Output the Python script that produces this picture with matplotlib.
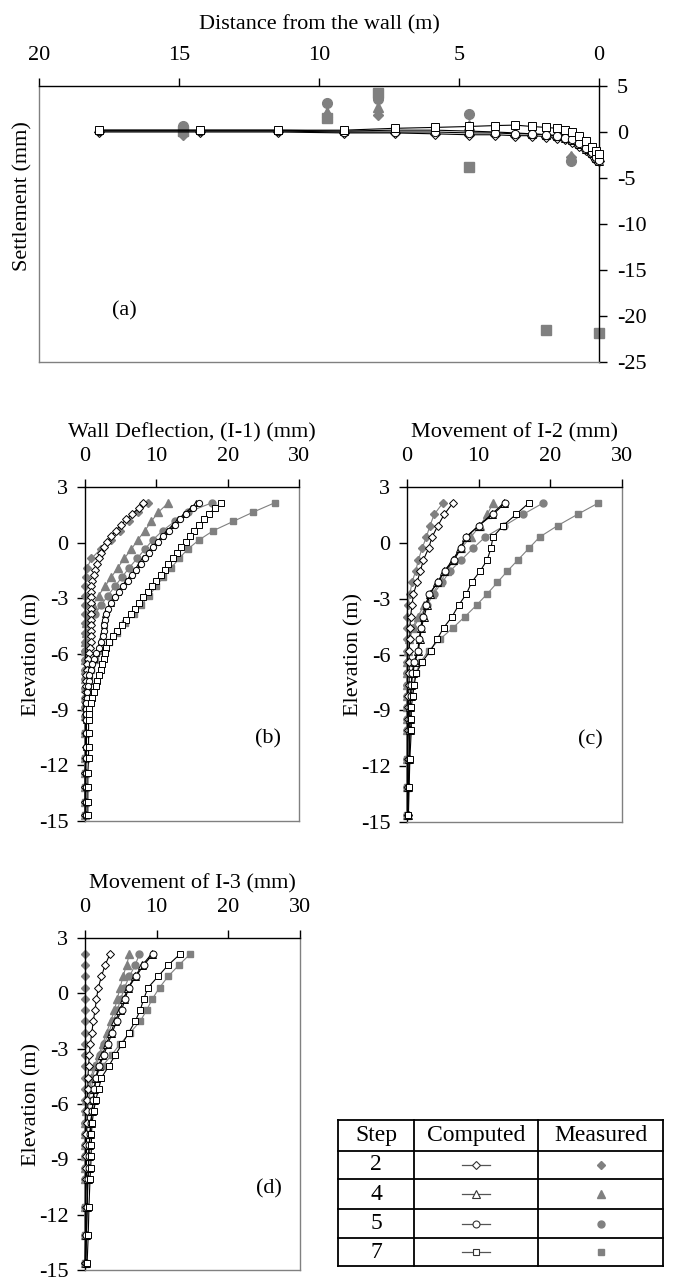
import matplotlib
matplotlib.use("Agg")
import matplotlib.pyplot as plt

plt.rcParams["font.family"] = ["Liberation Serif", "DejaVu Serif"]
plt.rcParams["font.size"] = 16
plt.rcParams["axes.unicode_minus"] = False

GRAY = "#808080"
STEPS = ["2", "4", "5", "7"]
MARKERS = {"2": "D", "4": "^", "5": "o", "7": "s"}
MSCALE = {"2": 0.8, "4": 1.05, "5": 1.0, "7": 1.0}

# (a) surface settlement
A_DIST_CALC = [17.85, 14.25, 11.45, 9.1, 7.3, 5.85, 4.65, 3.7, 3.0, 2.4, 1.9, 1.5, 1.2, 0.95, 0.7, 0.45, 0.25, 0.1, 0.0]
A_CALC = {
    "2": [0.0, 0.0, 0.0, -0.1, -0.1, -0.2, -0.3, -0.3, -0.4, -0.4, -0.5, -0.6, -0.8, -1.1, -1.5, -2.0, -2.5, -3.0, -3.2],
    "4": [0.2, 0.2, 0.2, 0.1, 0.2, 0.2, 0.1, 0.0, -0.1, -0.2, -0.3, -0.4, -0.6, -0.9, -1.3, -1.8, -2.3, -2.8, -3.1],
    "5": [0.1, 0.1, 0.1, 0.0, 0.0, 0.0, -0.1, -0.1, -0.2, -0.2, -0.3, -0.4, -0.6, -0.8, -1.2, -1.7, -2.2, -2.7, -3.0],
    "7": [0.2, 0.2, 0.2, 0.2, 0.4, 0.5, 0.6, 0.7, 0.75, 0.6, 0.5, 0.4, 0.25, 0.0, -0.45, -1.0, -1.6, -2.1, -2.4],
}
A_DIST_MEAS = {
    "2": [14.85, 9.7, 7.9, 4.65, 1.0],
    "4": [14.85, 9.7, 7.9, 4.65, 1.0],
    "5": [14.85, 9.7, 7.9, 4.65, 1.0],
    "7": [14.85, 9.7, 7.9, 4.65, 1.9, 0.0],
}
A_MEAS = {
    "2": [-0.3, 1.9, 1.8, 0.2, -2.7],
    "4": [0.2, 2.2, 2.7, 0.8, -2.6],
    "5": [0.6, 3.2, 3.6, 2.0, -3.2],
    "7": [0.1, 1.5, 4.2, -3.8, -21.5, -21.8],
}

# (b) wall deflection I-1
B_ELEV_MEAS = [2.15, 1.65, 1.15, 0.65, 0.15, -0.35, -0.85, -1.35, -1.85, -2.35, -2.85, -3.35, -3.85, -4.35, -4.85,
               -5.35, -5.85, -6.35, -6.85, -7.35, -7.85, -8.35, -8.85, -9.35, -10.24, -11.62, -12.4, -13.15, -13.96, -14.68]
B_MEAS = {
    "2": [8.9, 7.4, 6.1, 4.9, 3.6, 2.2, 0.9, 0.3, 0.1, 0.0, 0.0, 0.0, 0.0, 0.0, 0.0,
          0.0, 0.0, 0.0, 0.0, 0.0, 0.0, 0.0, 0.0, 0.0, 0.0, 0.0, 0.0, 0.0, 0.0, 0.0],
    "4": [11.7, 10.3, 9.3, 8.4, 7.4, 6.5, 5.5, 4.6, 3.7, 2.8, 1.9, 1.1, 0.5, 0.2, 0.1,
          0.0, 0.0, 0.0, 0.0, 0.0, 0.0, 0.0, 0.0, 0.0, 0.0, 0.0, 0.0, 0.0, 0.0, 0.0],
    "5": [17.8, 14.5, 12.6, 10.9, 9.5, 8.4, 7.3, 6.2, 5.2, 4.2, 3.2, 2.3, 1.4, 0.7, 0.3,
          0.1, 0.0, 0.0, 0.0, 0.0, 0.0, 0.0, 0.0, 0.0, 0.0, 0.0, 0.0, 0.0, 0.0, 0.0],
    "7": [26.6, 23.6, 20.8, 18.0, 16.0, 14.4, 13.2, 12.1, 11.0, 10.0, 9.0, 7.9, 6.8, 5.6, 4.5,
          3.4, 2.3, 1.4, 0.8, 0.5, 0.3, 0.2, 0.1, 0.1, 0.0, 0.0, 0.0, 0.0, 0.0, 0.0],
}
B_ELEV_CALC = [2.15, 1.85, 1.55, 1.25, 0.95, 0.65, 0.35, 0.05, -0.25, -0.55,
               -0.85, -1.15, -1.45, -1.75, -2.05, -2.35, -2.65, -2.95, -3.25, -3.55,
               -3.85, -4.15, -4.45, -4.75, -5.05, -5.35, -5.65, -5.95, -6.25, -6.55,
               -6.85, -7.15, -7.45, -7.75, -8.05, -8.35, -8.65, -8.95, -9.25, -9.55,
               -10.24, -11.0, -11.62, -12.4, -13.15, -13.96, -14.68]
B_CALC = {
    "2": [8.2, 7.5, 6.6, 5.8, 5.0, 4.3, 3.7, 3.1, 2.6, 2.3,
          2.0, 1.7, 1.4, 1.2, 1.0, 0.9, 0.8, 0.8, 0.8, 0.8,
          0.8, 0.8, 0.8, 0.9, 0.9, 0.9, 0.7, 0.5, 0.4, 0.3,
          0.3, 0.2, 0.2, 0.2, 0.1, 0.1, 0.1, 0.1, 0.1, 0.1,
          0.1, 0.1, 0.1, 0.0, 0.0, 0.0, 0.0],
    "4": [15.6, 14.8, 13.9, 13.1, 12.3, 11.5, 10.8, 10.1, 9.4, 8.8,
          8.2, 7.6, 7.0, 6.4, 5.8, 5.2, 4.6, 4.1, 3.6, 3.1,
          2.8, 2.7, 2.6, 2.5, 2.4, 2.2, 1.9, 1.5, 1.2, 0.9,
          0.7, 0.6, 0.5, 0.4, 0.3, 0.3, 0.2, 0.2, 0.2, 0.2,
          0.2, 0.2, 0.1, 0.1, 0.1, 0.1, 0.1],
    "5": [16.0, 15.2, 14.2, 13.3, 12.6, 11.8, 11.0, 10.3, 9.6, 9.0,
          8.4, 7.8, 7.2, 6.6, 6.0, 5.3, 4.7, 4.2, 3.7, 3.2,
          2.9, 2.8, 2.7, 2.6, 2.5, 2.3, 2.0, 1.6, 1.3, 1.0,
          0.8, 0.6, 0.5, 0.4, 0.3, 0.3, 0.2, 0.2, 0.2, 0.2,
          0.2, 0.2, 0.1, 0.1, 0.1, 0.1, 0.1],
    "7": [19.0, 18.2, 17.4, 16.7, 16.0, 15.3, 14.7, 14.1, 13.5, 12.9,
          12.3, 11.7, 11.2, 10.6, 10.0, 9.4, 8.8, 8.2, 7.6, 7.0,
          6.4, 5.8, 5.2, 4.5, 3.9, 3.4, 3.0, 2.8, 2.6, 2.4,
          2.2, 2.0, 1.7, 1.5, 1.2, 1.0, 0.8, 0.6, 0.5, 0.5,
          0.5, 0.5, 0.5, 0.4, 0.4, 0.4, 0.4],
}

# (c) I-2 and (d) I-3 share the same reading depths
CD_ELEV = [2.14, 1.53, 0.92, 0.31, -0.30, -0.91, -1.52, -2.13, -2.74, -3.35, -3.96, -4.57,
           -5.18, -5.79, -6.40, -7.01, -7.62, -8.23, -8.84, -9.45, -10.06, -11.6, -13.1, -14.6]
C_MEAS = {
    "2": [5.0, 3.8, 3.2, 2.7, 2.1, 1.6, 1.2, 0.7, 0.4, 0.1, 0.0, 0.0,
          0.0, 0.0, 0.0, 0.0, 0.0, 0.0, 0.0, 0.0, 0.0, 0.0, 0.0, 0.0],
    "4": [12.0, 11.2, 10.2, 8.9, 7.5, 6.4, 5.6, 4.6, 3.5, 2.4, 1.5, 0.8,
          0.3, 0.1, 0.0, 0.0, 0.0, 0.0, 0.0, 0.0, 0.0, 0.0, 0.0, 0.0],
    "5": [19.0, 16.2, 13.6, 10.9, 9.2, 7.6, 6.0, 4.9, 3.7, 2.8, 1.8, 0.9,
          0.3, 0.1, 0.1, 0.0, 0.0, 0.0, 0.0, 0.0, 0.0, 0.0, 0.0, 0.0],
    "7": [26.7, 23.8, 21.0, 18.5, 17.0, 15.5, 14.0, 12.6, 11.2, 9.7, 8.1, 6.4,
          4.6, 3.0, 1.9, 1.2, 0.9, 0.6, 0.3, 0.1, 0.1, 0.0, 0.0, 0.0],
}
C_CALC = {
    "2": [6.4, 5.2, 4.3, 3.5, 3.0, 2.3, 1.85, 1.4, 0.9, 0.7, 0.5, 0.4,
          0.4, 0.3, 0.3, 0.3, 0.3, 0.2, 0.2, 0.2, 0.2, 0.1, 0.1, 0.1],
    "4": [13.5, 11.8, 10.0, 8.2, 7.4, 6.4, 5.2, 4.2, 3.2, 2.8, 2.4, 2.0,
          1.8, 1.6, 1.1, 0.8, 0.6, 0.5, 0.4, 0.4, 0.4, 0.3, 0.2, 0.1],
    "5": [13.7, 12.0, 10.0, 8.3, 7.5, 6.6, 5.3, 4.3, 3.1, 2.6, 2.2, 1.9,
          1.7, 1.5, 1.0, 0.7, 0.6, 0.5, 0.4, 0.4, 0.4, 0.3, 0.2, 0.1],
    "7": [17.0, 15.2, 13.4, 12.0, 11.7, 11.2, 10.2, 9.0, 8.3, 7.2, 6.3, 5.1,
          4.2, 3.3, 2.1, 1.3, 1.0, 0.8, 0.6, 0.6, 0.6, 0.4, 0.3, 0.2],
}
D_MEAS = {
    "2": [0.0, 0.0, 0.0, 0.0, 0.0, 0.0, 0.0, 0.0, 0.0, 0.0, 0.0, 0.0,
          0.0, 0.0, 0.0, 0.0, 0.0, 0.0, 0.0, 0.0, 0.0, 0.0, 0.0, 0.0],
    "4": [6.2, 5.8, 5.3, 4.9, 4.5, 4.1, 3.6, 3.0, 2.5, 1.9, 1.3, 0.8,
          0.4, 0.2, 0.1, 0.0, 0.0, 0.0, 0.0, 0.0, 0.0, 0.0, 0.0, 0.0],
    "5": [7.6, 7.0, 6.2, 5.5, 5.0, 4.5, 3.9, 3.3, 2.7, 2.1, 1.5, 1.0,
          0.6, 0.3, 0.1, 0.0, 0.0, 0.0, 0.0, 0.0, 0.0, 0.0, 0.0, 0.0],
    "7": [14.7, 13.1, 11.6, 10.4, 9.4, 8.6, 7.7, 6.3, 4.9, 3.7, 2.4, 1.3,
          0.8, 0.5, 0.4, 0.3, 0.2, 0.1, 0.1, 0.1, 0.1, 0.0, 0.0, 0.0],
}
D_CALC = {
    "2": [3.5, 2.8, 2.3, 1.85, 1.6, 1.4, 1.15, 0.95, 0.75, 0.6, 0.5, 0.4,
          0.4, 0.3, 0.3, 0.3, 0.2, 0.2, 0.2, 0.2, 0.2, 0.1, 0.1, 0.0],
    "4": [9.3, 8.0, 7.0, 6.0, 5.4, 4.9, 4.2, 3.6, 3.0, 2.4, 1.9, 1.5,
          1.3, 1.2, 1.0, 0.8, 0.7, 0.6, 0.5, 0.5, 0.4, 0.3, 0.2, 0.1],
    "5": [9.5, 8.2, 7.1, 6.1, 5.6, 5.1, 4.4, 3.8, 3.2, 2.6, 2.0, 1.6,
          1.3, 1.1, 1.0, 0.8, 0.7, 0.6, 0.5, 0.5, 0.4, 0.3, 0.2, 0.1],
    "7": [13.3, 11.6, 10.2, 8.8, 8.2, 7.7, 7.0, 6.1, 5.2, 4.2, 3.3, 2.3,
          1.9, 1.5, 1.2, 1.0, 0.9, 0.9, 0.85, 0.8, 0.7, 0.55, 0.45, 0.3],
}

W, H = 673, 1285


def rect(x0, y0, x1, y1):
    # pixel box (top-left origin) -> figure fraction
    return [x0 / W, 1 - y1 / H, (x1 - x0) / W, (y1 - y0) / H]


def style_spines(ax, black, gray):
    for side in black:
        ax.spines[side].set_color("black")
        ax.spines[side].set_linewidth(1.0)
    for side in gray:
        ax.spines[side].set_color(GRAY)
        ax.spines[side].set_linewidth(1.0)


def plot_calc(ax, x, y, step, ms):
    ax.plot(x, y, color="black", lw=0.8, marker=MARKERS[step], ms=ms * MSCALE[step],
            mfc="white", mec="black", mew=0.7, clip_on=False, zorder=3)


def plot_meas(ax, x, y, step, ms, line=True):
    ax.plot(x, y, color=GRAY, lw=0.8 if line else 0, marker=MARKERS[step], ms=ms * MSCALE[step],
            mfc=GRAY, mec=GRAY, clip_on=False, zorder=2)


def profile_axes(fig, box, title, label_tag, meas, elev_meas, calc, elev_calc, ms_meas, ms_calc):
    ax = fig.add_axes(rect(*box))
    for step in STEPS:
        plot_meas(ax, meas[step], elev_meas, step, ms_meas)
    for step in STEPS:
        plot_calc(ax, calc[step], elev_calc, step, ms_calc)
    ax.set_xlim(0, 30)
    ax.set_ylim(-15, 3)
    ax.xaxis.tick_top()
    ax.xaxis.set_label_position("top")
    ax.set_xticks([0, 10, 20, 30])
    ax.set_yticks([3, 0, -3, -6, -9, -12, -15])
    ax.tick_params(axis="x", direction="out", length=6, width=1, pad=9)
    ax.tick_params(axis="y", direction="out", length=6, width=1, pad=6)
    style_spines(ax, ["top", "left"], ["right", "bottom"])
    ax.set_xlabel(title, labelpad=7)
    ax.set_ylabel("Elevation (m)")
    ax.yaxis.set_label_coords(-44 / (box[2] - box[0]), 0.5)
    ax.text(25.6, -10.6, label_tag, ha="center", va="center")
    return ax


fig = plt.figure(figsize=(W / 100, H / 100), dpi=100)

# panel (a)
ax = fig.add_axes(rect(39, 86, 599, 362))
for step in STEPS:
    plot_meas(ax, A_DIST_MEAS[step], A_MEAS[step], step, 7, line=False)
for step in STEPS:
    plot_calc(ax, A_DIST_CALC, A_CALC[step], step, 6)
ax.set_xlim(20, 0)
ax.set_ylim(-25, 5)
ax.xaxis.tick_top()
ax.xaxis.set_label_position("top")
ax.yaxis.tick_right()
ax.set_xticks([20, 15, 10, 5, 0])
ax.set_yticks([5, 0, -5, -10, -15, -20, -25])
ax.tick_params(axis="x", direction="out", length=6, width=1, pad=9)
ax.tick_params(axis="y", direction="out", length=6, width=1, pad=7)
style_spines(ax, ["top", "right"], ["left", "bottom"])
ax.set_xlabel("Distance from the wall (m)", labelpad=12)
ax.set_ylabel("Settlement (mm)")
ax.yaxis.set_label_position("left")
ax.yaxis.set_label_coords(-0.012, 0.6)
ax.text(16.95, -19.4, "(a)", ha="center", va="center")

profile_axes(fig, (85, 487, 299, 821), "Wall Deflection, (I-1) (mm)", "(b)",
             B_MEAS, B_ELEV_MEAS, B_CALC, B_ELEV_CALC, 5, 4.5)
profile_axes(fig, (407, 487, 622, 822), "Movement of I-2 (mm)", "(c)",
             C_MEAS, CD_ELEV, C_CALC, CD_ELEV, 5, 5)
profile_axes(fig, (85, 938, 300, 1270), "Movement of I-3 (mm)", "(d)",
             D_MEAS, CD_ELEV, D_CALC, CD_ELEV, 5, 5)

# legend table
tab = fig.add_axes(rect(338, 1120, 663, 1266))
tab.set_xlim(0, 325)
tab.set_ylim(146, 0)
tab.axis("off")
row_lines = [0, 31, 59, 89, 118, 146]
col_lines = [0, 76, 200, 325]
for y in row_lines:
    tab.plot([0, 325], [y, y], color="black", lw=1.3, clip_on=False)
for x in col_lines:
    tab.plot([x, x], [0, 146], color="black", lw=1.3, clip_on=False)
tab.text(38, 15.5, "Step", ha="center", va="center", fontsize=17)
tab.text(138, 15.5, "Computed", ha="center", va="center", fontsize=17)
tab.text(263, 15.5, "Measured", ha="center", va="center", fontsize=17)
for i, step in enumerate(STEPS):
    yc = (row_lines[i + 1] + row_lines[i + 2]) / 2
    tab.text(38, yc, step, ha="center", va="center", fontsize=17)
    tab.plot([124, 152], [yc, yc], color="#555555", lw=0.9)
    tab.plot([138], [yc], marker=MARKERS[step], ms=5 * MSCALE[step], mfc="white", mec="#333333", mew=0.8)
    tab.plot([263], [yc], marker=MARKERS[step], ms=5 * MSCALE[step], mfc=GRAY, mec=GRAY)

fig.savefig("out.png", dpi=100)
